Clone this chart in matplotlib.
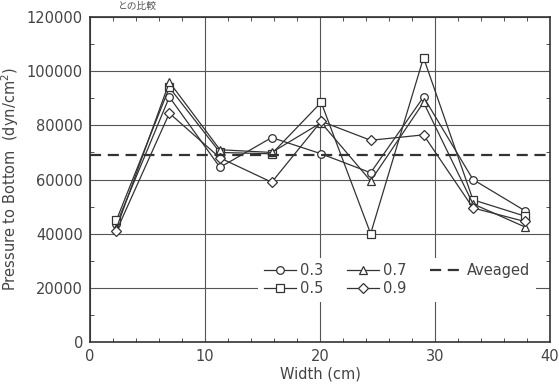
import numpy as np
import matplotlib.pyplot as plt
from matplotlib.ticker import MultipleLocator

# widths where pressure was measured (cm)
width = [2.3, 6.9, 11.3, 15.8, 20.1, 24.4, 29.0, 33.3, 37.8]

# pressure to bottom (dyn/cm^2) for each ratio
p03 = [43500, 90500, 64500, 75500, 69500, 62500, 90500, 60000, 48500]
p05 = [45000, 94000, 70000, 69500, 88500, 40000, 105000, 52500, 46500]
p07 = [42000, 96000, 71000, 70000, 81000, 59500, 88500, 51000, 42500]
p09 = [41000, 84500, 68000, 59000, 81500, 74500, 76500, 49500, 44500]
averaged = 69000

labels = ['0.3', '0.5', '0.7', '0.9']
markers = ['o', 's', '^', 'D']
series = [p03, p05, p07, p09]

plt.rcParams['font.family'] = ['Liberation Sans Narrow', 'DejaVu Sans']
ink = '#333333'

fig = plt.figure(figsize=(5.59, 3.89), dpi=100)
ax = fig.add_axes([0.161, 0.121, 0.823, 0.835])

for vals, lab, m in zip(series, labels, markers):
    ms = 5 if m == 'D' else 5.5
    ax.plot(width, vals, color=ink, lw=0.9, marker=m, ms=ms,
            mfc='white', mec=ink, mew=0.9, label=lab)

ax.axhline(averaged, color=ink, lw=1.6, ls=(0, (5, 3)), label='Aveaged')

ax.set_xlim(0, 40)
ax.set_ylim(0, 120000)
ax.xaxis.set_major_locator(MultipleLocator(10))
ax.xaxis.set_minor_locator(MultipleLocator(2))
ax.yaxis.set_major_locator(MultipleLocator(20000))
ax.yaxis.set_minor_locator(MultipleLocator(10000))
ax.tick_params(which='both', direction='in', top=True, right=True,
               colors=ink, labelcolor='#444444', labelsize=10.5)
ax.tick_params(which='major', length=0, pad=5)
ax.tick_params(which='minor', length=3)
ax.grid(True, which='major', color='#555555', lw=0.8)
for s in ax.spines.values():
    s.set_color(ink)
    s.set_linewidth(1.2)

ax.set_xlabel('Width (cm)', fontsize=10.5, color='#444444', labelpad=2)
ax.set_ylabel('Pressure to Bottom  (dyn/cm$^2$)', fontsize=10.5,
              color='#444444', labelpad=4)

leg = ax.legend(ncol=3, loc='lower right', bbox_to_anchor=(0.985, 0.1),
                frameon=True, fontsize=10.5, handlelength=2.2,
                columnspacing=1.6, handletextpad=0.3, labelspacing=0.2,
                borderpad=0.4)
leg.get_frame().set_edgecolor('none')
leg.get_frame().set_facecolor('white')
leg.get_frame().set_alpha(1)
for t in leg.get_texts():
    t.set_color('#444444')

fig.text(0.21, 0.997, 'との比較', family=['Noto Sans CJK JP'], fontsize=7,
         color='#555555', va='top', ha='left')

fig.savefig('out.png', dpi=100)
